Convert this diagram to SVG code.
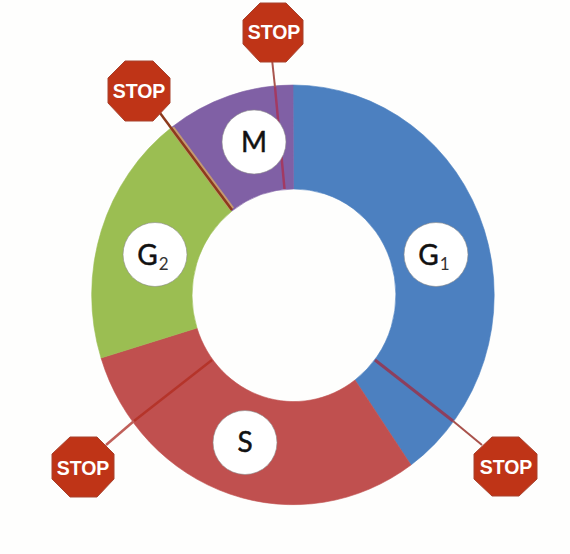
<svg xmlns="http://www.w3.org/2000/svg" width="570" height="554" viewBox="0 0 570 554">
<style>
.lab{fill:#fff;stroke:#8a8a8a;stroke-width:.6}
.t{font-family:Lato,"Liberation Sans",sans-serif;font-size:28px;fill:#111;stroke:#111;stroke-width:.5;text-anchor:middle}
.sub{font-size:17px;fill:#333;stroke:none}
.oct{fill:#bf3417;stroke:#a8432f;stroke-width:1;stroke-linejoin:round}
.st{font-family:"Liberation Sans",Arial,sans-serif;font-size:19.5px;font-weight:700;fill:#fff;text-anchor:middle}
.c{fill:none;stroke-linecap:butt}
</style>
<rect width="570" height="554" fill="#fefefd"/>
<g id="ring">
<path fill="#4c80c0" stroke="#4c80c0" stroke-width=".6" d="M293 85A201.5 210 0 0 1 411 465L355 380A101.5 106 0 0 0 293.5 189Z"/>
<path fill="#c0504f" stroke="#c0504f" stroke-width=".6" d="M411 465A201.5 210 0 0 1 101 358L197 328A101.5 106 0 0 0 355 380Z"/>
<path fill="#9bbe52" stroke="#9bbe52" stroke-width=".6" d="M101 358A201.5 210 0 0 1 172 127L232 211A101.5 106 0 0 0 197 328Z"/>
<path fill="#8060a5" stroke="#8060a5" stroke-width=".6" d="M172 127A201.5 210 0 0 1 293 85L293.5 189A101.5 106 0 0 0 232 211Z"/>
</g>
<g id="connectors">
<path class="c" stroke="#a9554e" stroke-width="2" d="M272.3 62L275 87"/>
<path class="c" stroke="#a23a63" stroke-width="2.5" d="M275 87L284.5 189"/>
<path class="c" stroke="#c49a70" stroke-width="5" d="M172 128L232 209"/>
<path class="c" stroke="#8d3a1c" stroke-width="2.5" d="M160 113L232 210"/>
<path class="c" stroke="#c0605a" stroke-width="2.5" d="M106 445L134 421"/>
<path class="c" stroke="#b5342a" stroke-width="2.5" d="M134 421L212 360"/>
<path class="c" stroke="#8c3f5e" stroke-width="3" d="M375 360L453 421"/>
<path class="c" stroke="#a9524b" stroke-width="2" d="M453 421L482 445"/>
</g>
<g id="node-m"><circle class="lab" cx="254" cy="142" r="32"/><text class="t" x="254" y="152">M</text></g>
<g id="node-g1"><circle class="lab" cx="436" cy="254.500" r="32"/><text class="t" x="434" y="265">G<tspan class="sub" dy="5" dx="1">1</tspan></text></g>
<g id="node-g2"><circle class="lab" cx="155" cy="254.500" r="32"/><text class="t" x="153" y="265">G<tspan class="sub" dy="5" dx="1">2</tspan></text></g>
<g id="node-s"><circle class="lab" cx="245" cy="442.500" r="32"/><text class="t" x="245" y="452">S</text></g>
<g id="stop-top"><polygon class="oct" points="260,3 286,3 303,20 303,44 286,62 260,62 243,44 243,20"/><text class="st" x="274" y="39">STOP</text></g>
<g id="stop-left"><polygon class="oct" points="125,61 153,61 170,78 170,103 153,121 125,121 108,103 108,78"/><text class="st" x="139" y="98">STOP</text></g>
<g id="stop-bl"><polygon class="oct" points="70,437 97,437 114,454 114,479 97,497 70,497 52,479 52,454"/><text class="st" x="83" y="475">STOP</text></g>
<g id="stop-br"><polygon class="oct" points="492,437 519,437 537,454 537,479 519,496 492,496 474,479 474,454"/><text class="st" x="506" y="474">STOP</text></g>
</svg>
